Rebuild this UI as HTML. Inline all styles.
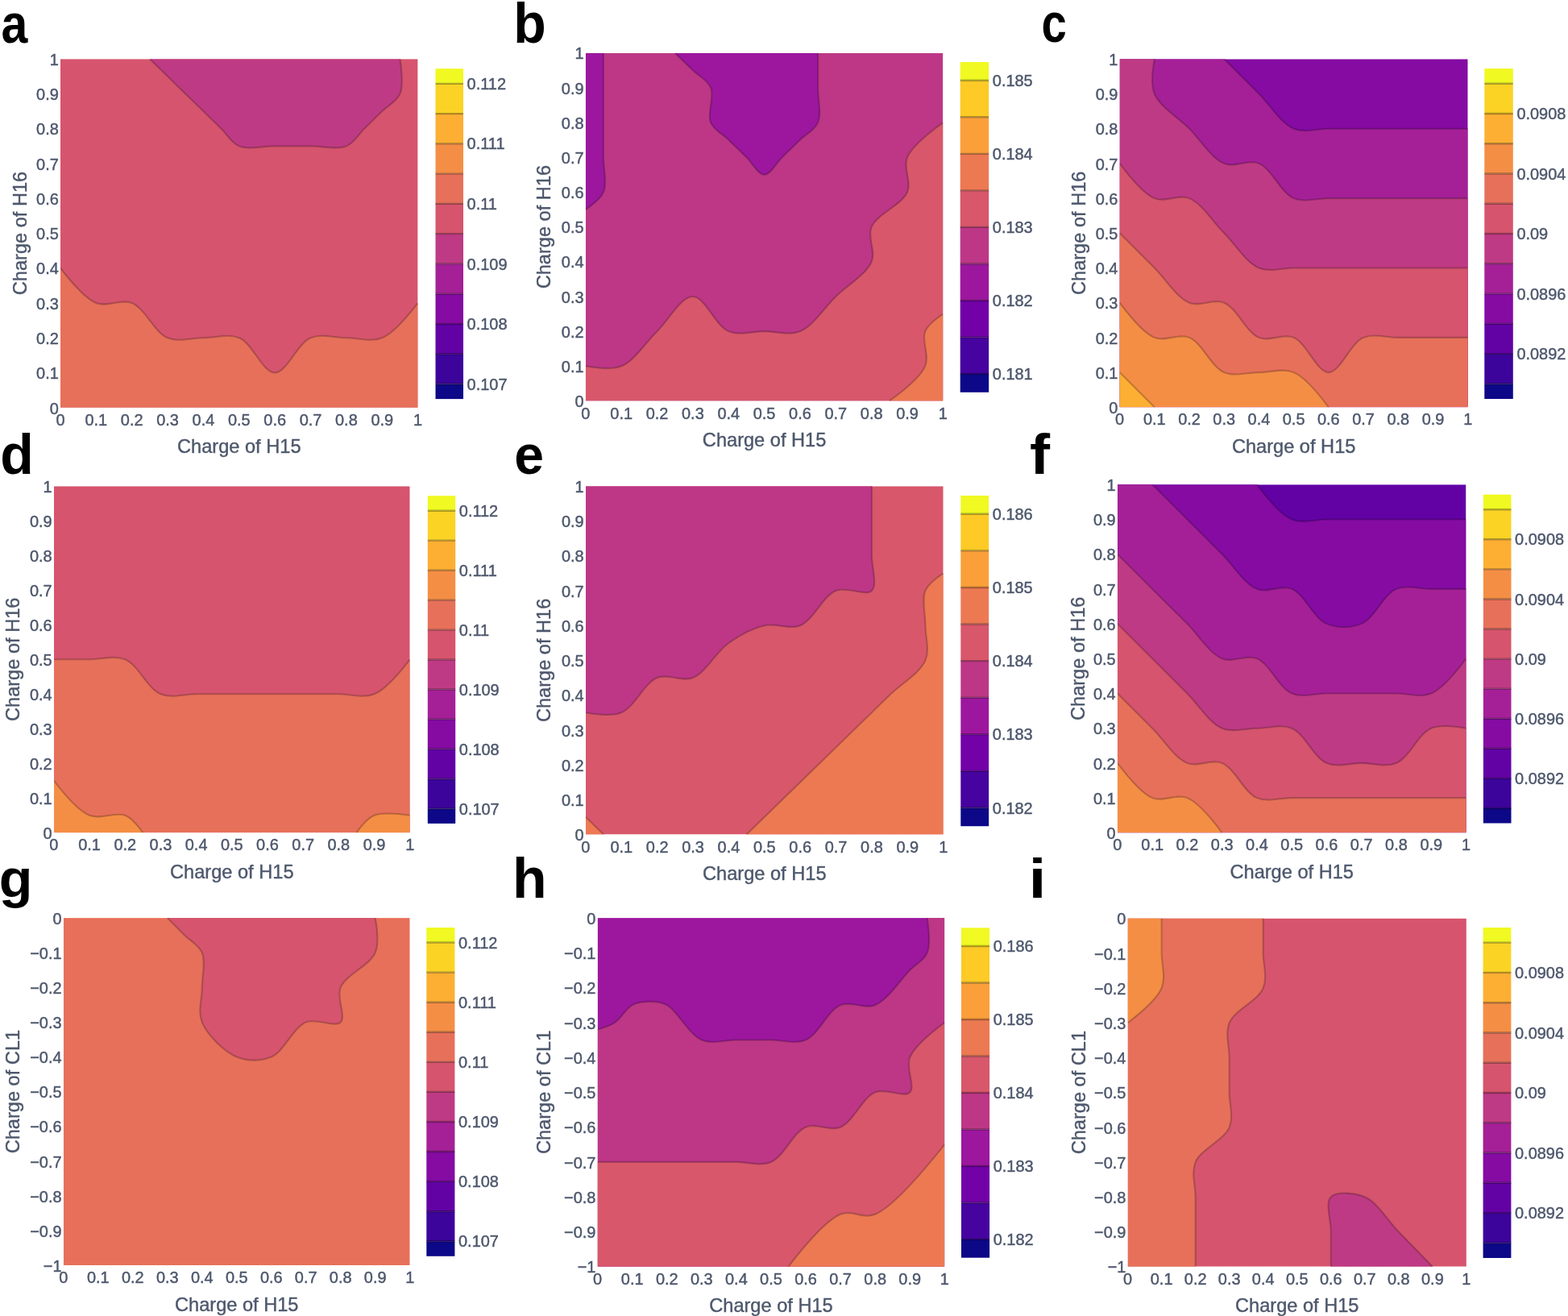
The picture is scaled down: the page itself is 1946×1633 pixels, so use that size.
<!DOCTYPE html>
<html><head><meta charset="utf-8"><title>Contour plots</title>
<style>
html,body{margin:0;padding:0;background:#fff;}
svg{display:block;}
.t{font-family:'Liberation Sans', Arial, sans-serif;font-size:21px;fill:#4d576c;stroke:#4d576c;stroke-width:0.45px;}
.ti{font-family:'Liberation Sans', Arial, sans-serif;font-size:23.6px;fill:#4d576c;stroke:#4d576c;stroke-width:0.4px;}
.L{font-family:'Liberation Sans', Arial, sans-serif;font-weight:bold;font-size:69px;fill:#000;}
</style></head><body>
<svg width="1946" height="1633" viewBox="0 0 1946 1633">
<rect width="1946" height="1633" fill="#fff"/>
<clipPath id="clipa"><rect x="75.00" y="73.20" width="443.60" height="432.60"/></clipPath>
<g clip-path="url(#clipa)">
<rect x="75.00" y="73.20" width="443.60" height="432.60" fill="#d6546d"/>
<path d="M185.90,73.20Q200.69,87.62 208.08,94.83C215.47,102.04 222.87,109.25 230.26,116.46C237.65,123.67 245.05,130.88 252.44,138.09C259.83,145.30 267.23,152.51 274.62,159.72C282.01,166.93 287.15,177.42 296.80,181.35C308.35,186.05 326.37,181.35 341.16,181.35C355.95,181.35 370.73,181.35 385.52,181.35C400.31,181.35 418.33,186.05 429.88,181.35C439.53,177.42 444.67,166.93 452.06,159.72C459.45,152.51 466.85,145.30 474.24,138.09C481.63,130.88 492.42,125.96 496.42,116.46Q501.15,105.24 496.42,73.20Z" fill="#bf3a84"/>
<path d="M75.00,332.76Q103.12,369.41 119.36,376.02C133.10,381.61 149.98,370.43 163.72,376.02C179.96,382.63 191.84,412.67 208.08,419.28C221.82,424.87 237.65,419.28 252.44,419.28C267.23,419.28 283.06,413.69 296.80,419.28C313.04,425.89 326.37,462.54 341.16,462.54C355.95,462.54 369.28,425.89 385.52,419.28C399.26,413.69 415.09,419.28 429.88,419.28C444.67,419.28 460.50,424.87 474.24,419.28Q490.48,412.67 518.60,376.02L518.60,505.80L75.00,505.80Z" fill="#e7705a"/>
<path d="M185.90,73.20Q200.69,87.62 208.08,94.83C215.47,102.04 222.87,109.25 230.26,116.46C237.65,123.67 245.05,130.88 252.44,138.09C259.83,145.30 267.23,152.51 274.62,159.72C282.01,166.93 287.15,177.42 296.80,181.35C308.35,186.05 326.37,181.35 341.16,181.35C355.95,181.35 370.73,181.35 385.52,181.35C400.31,181.35 418.33,186.05 429.88,181.35C439.53,177.42 444.67,166.93 452.06,159.72C459.45,152.51 466.85,145.30 474.24,138.09C481.63,130.88 492.42,125.96 496.42,116.46Q501.15,105.24 496.42,73.20" fill="none" stroke="#000" stroke-width="2.1" stroke-opacity="0.22"/>
<path d="M75.00,332.76Q103.12,369.41 119.36,376.02C133.10,381.61 149.98,370.43 163.72,376.02C179.96,382.63 191.84,412.67 208.08,419.28C221.82,424.87 237.65,419.28 252.44,419.28C267.23,419.28 283.06,413.69 296.80,419.28C313.04,425.89 326.37,462.54 341.16,462.54C355.95,462.54 369.28,425.89 385.52,419.28C399.26,413.69 415.09,419.28 429.88,419.28C444.67,419.28 460.50,424.87 474.24,419.28Q490.48,412.67 518.60,376.02" fill="none" stroke="#000" stroke-width="2.1" stroke-opacity="0.22"/>
</g>
<rect x="540.50" y="476.47" width="34.50" height="18.63" fill="#0d0887"/>
<rect x="540.50" y="439.20" width="34.50" height="37.26" fill="#3c049b"/>
<rect x="540.50" y="401.94" width="34.50" height="37.26" fill="#6202a5"/>
<rect x="540.50" y="364.68" width="34.50" height="37.26" fill="#850ba3"/>
<rect x="540.50" y="327.41" width="34.50" height="37.26" fill="#a52097"/>
<rect x="540.50" y="290.15" width="34.50" height="37.26" fill="#bf3a84"/>
<rect x="540.50" y="252.89" width="34.50" height="37.26" fill="#d6546d"/>
<rect x="540.50" y="215.62" width="34.50" height="37.26" fill="#e7705a"/>
<rect x="540.50" y="178.36" width="34.50" height="37.26" fill="#f58e45"/>
<rect x="540.50" y="141.10" width="34.50" height="37.26" fill="#fcaf33"/>
<rect x="540.50" y="103.83" width="34.50" height="37.26" fill="#fbd325"/>
<rect x="540.50" y="85.20" width="34.50" height="18.63" fill="#f0f921"/>
<line x1="540.50" x2="575.00" y1="476.47" y2="476.47" stroke="#000" stroke-width="2.4" stroke-opacity="0.3"/>
<line x1="540.50" x2="575.00" y1="439.20" y2="439.20" stroke="#000" stroke-width="2.4" stroke-opacity="0.3"/>
<line x1="540.50" x2="575.00" y1="401.94" y2="401.94" stroke="#000" stroke-width="2.4" stroke-opacity="0.3"/>
<line x1="540.50" x2="575.00" y1="364.68" y2="364.68" stroke="#000" stroke-width="2.4" stroke-opacity="0.3"/>
<line x1="540.50" x2="575.00" y1="327.41" y2="327.41" stroke="#000" stroke-width="2.4" stroke-opacity="0.3"/>
<line x1="540.50" x2="575.00" y1="290.15" y2="290.15" stroke="#000" stroke-width="2.4" stroke-opacity="0.3"/>
<line x1="540.50" x2="575.00" y1="252.89" y2="252.89" stroke="#000" stroke-width="2.4" stroke-opacity="0.3"/>
<line x1="540.50" x2="575.00" y1="215.62" y2="215.62" stroke="#000" stroke-width="2.4" stroke-opacity="0.3"/>
<line x1="540.50" x2="575.00" y1="178.36" y2="178.36" stroke="#000" stroke-width="2.4" stroke-opacity="0.3"/>
<line x1="540.50" x2="575.00" y1="141.10" y2="141.10" stroke="#000" stroke-width="2.4" stroke-opacity="0.3"/>
<line x1="540.50" x2="575.00" y1="103.83" y2="103.83" stroke="#000" stroke-width="2.4" stroke-opacity="0.3"/>
<text class="t" transform="translate(579.60,483.57) scale(0.950,1)">0.107</text>
<text class="t" transform="translate(579.60,409.04) scale(0.950,1)">0.108</text>
<text class="t" transform="translate(579.60,334.51) scale(0.950,1)">0.109</text>
<text class="t" transform="translate(579.60,259.99) scale(0.950,1)">0.11</text>
<text class="t" transform="translate(579.60,185.46) scale(0.950,1)">0.111</text>
<text class="t" transform="translate(579.60,110.93) scale(0.950,1)">0.112</text>
<text class="t" text-anchor="end" transform="translate(72.80,513.50) scale(0.950,1)">0</text>
<text class="t" text-anchor="end" transform="translate(72.80,470.24) scale(0.950,1)">0.1</text>
<text class="t" text-anchor="end" transform="translate(72.80,426.98) scale(0.950,1)">0.2</text>
<text class="t" text-anchor="end" transform="translate(72.80,383.72) scale(0.950,1)">0.3</text>
<text class="t" text-anchor="end" transform="translate(72.80,340.46) scale(0.950,1)">0.4</text>
<text class="t" text-anchor="end" transform="translate(72.80,297.20) scale(0.950,1)">0.5</text>
<text class="t" text-anchor="end" transform="translate(72.80,253.94) scale(0.950,1)">0.6</text>
<text class="t" text-anchor="end" transform="translate(72.80,210.68) scale(0.950,1)">0.7</text>
<text class="t" text-anchor="end" transform="translate(72.80,167.42) scale(0.950,1)">0.8</text>
<text class="t" text-anchor="end" transform="translate(72.80,124.16) scale(0.950,1)">0.9</text>
<text class="t" text-anchor="end" transform="translate(72.80,80.90) scale(0.950,1)">1</text>
<text class="t" text-anchor="middle" transform="translate(75.00,527.80) scale(0.950,1)">0</text>
<text class="t" text-anchor="middle" transform="translate(119.36,527.80) scale(0.950,1)">0.1</text>
<text class="t" text-anchor="middle" transform="translate(163.72,527.80) scale(0.950,1)">0.2</text>
<text class="t" text-anchor="middle" transform="translate(208.08,527.80) scale(0.950,1)">0.3</text>
<text class="t" text-anchor="middle" transform="translate(252.44,527.80) scale(0.950,1)">0.4</text>
<text class="t" text-anchor="middle" transform="translate(296.80,527.80) scale(0.950,1)">0.5</text>
<text class="t" text-anchor="middle" transform="translate(341.16,527.80) scale(0.950,1)">0.6</text>
<text class="t" text-anchor="middle" transform="translate(385.52,527.80) scale(0.950,1)">0.7</text>
<text class="t" text-anchor="middle" transform="translate(429.88,527.80) scale(0.950,1)">0.8</text>
<text class="t" text-anchor="middle" transform="translate(474.24,527.80) scale(0.950,1)">0.9</text>
<text class="t" text-anchor="middle" transform="translate(518.60,527.80) scale(0.950,1)">1</text>
<text x="296.80" y="562.30" class="ti" text-anchor="middle">Charge of H15</text>
<text class="ti" text-anchor="middle" transform="translate(33.00,289.50) rotate(-90)">Charge of H16</text>
<text x="1.50" y="52.60" class="L" transform="translate(0.178,0.000) scale(0.8556,1.0000)">a</text>
<clipPath id="clipb"><rect x="726.80" y="65.70" width="443.60" height="431.80"/></clipPath>
<g clip-path="url(#clipb)">
<rect x="726.80" y="65.70" width="443.60" height="431.80" fill="#bd3786"/>
<path d="M748.98,65.70Q748.98,94.49 748.98,108.88C748.98,123.27 748.98,137.67 748.98,152.06C748.98,166.45 748.98,180.85 748.98,195.24C748.98,209.63 753.71,227.22 748.98,238.42Q744.98,247.90 726.80,260.01L726.80,65.70Z" fill="#9c179e"/>
<path d="M837.70,65.70Q852.49,80.09 859.88,87.29C867.27,94.49 878.06,99.40 882.06,108.88C886.79,120.08 877.33,140.86 882.06,152.06C886.06,161.54 896.85,166.45 904.24,173.65C911.63,180.85 919.03,188.04 926.42,195.24C933.81,202.44 941.21,216.83 948.60,216.83C955.99,216.83 963.39,202.44 970.78,195.24C978.17,188.04 985.57,180.85 992.96,173.65C1000.35,166.45 1011.14,161.54 1015.14,152.06C1019.87,140.86 1015.14,123.27 1015.14,108.88Q1015.14,94.49 1015.14,65.70Z" fill="#9c179e"/>
<path d="M726.80,454.32Q757.41,459.91 771.16,454.32C787.40,447.72 800.73,425.53 815.52,411.14C830.31,396.75 845.09,367.96 859.88,367.96C874.67,367.96 888.00,404.54 904.24,411.14C917.99,416.73 933.81,411.14 948.60,411.14C963.39,411.14 979.21,416.73 992.96,411.14C1009.20,404.54 1022.53,382.35 1037.32,367.96C1052.11,353.57 1074.95,340.72 1081.68,324.78C1087.30,311.47 1076.06,294.91 1081.68,281.60C1088.41,265.66 1119.31,254.36 1126.04,238.42C1131.66,225.11 1120.42,208.55 1126.04,195.24Q1132.77,179.30 1170.40,152.06L1170.40,497.50L726.80,497.50Z" fill="#d8576b"/>
<path d="M1103.86,497.50Q1141.49,470.26 1148.22,454.32C1153.84,441.01 1143.49,422.34 1148.22,411.14Q1152.22,401.66 1170.40,389.55L1170.40,497.50Z" fill="#ed7953"/>
<path d="M748.98,65.70Q748.98,94.49 748.98,108.88C748.98,123.27 748.98,137.67 748.98,152.06C748.98,166.45 748.98,180.85 748.98,195.24C748.98,209.63 753.71,227.22 748.98,238.42Q744.98,247.90 726.80,260.01" fill="none" stroke="#000" stroke-width="2.1" stroke-opacity="0.22"/>
<path d="M837.70,65.70Q852.49,80.09 859.88,87.29C867.27,94.49 878.06,99.40 882.06,108.88C886.79,120.08 877.33,140.86 882.06,152.06C886.06,161.54 896.85,166.45 904.24,173.65C911.63,180.85 919.03,188.04 926.42,195.24C933.81,202.44 941.21,216.83 948.60,216.83C955.99,216.83 963.39,202.44 970.78,195.24C978.17,188.04 985.57,180.85 992.96,173.65C1000.35,166.45 1011.14,161.54 1015.14,152.06C1019.87,140.86 1015.14,123.27 1015.14,108.88Q1015.14,94.49 1015.14,65.70" fill="none" stroke="#000" stroke-width="2.1" stroke-opacity="0.22"/>
<path d="M726.80,454.32Q757.41,459.91 771.16,454.32C787.40,447.72 800.73,425.53 815.52,411.14C830.31,396.75 845.09,367.96 859.88,367.96C874.67,367.96 888.00,404.54 904.24,411.14C917.99,416.73 933.81,411.14 948.60,411.14C963.39,411.14 979.21,416.73 992.96,411.14C1009.20,404.54 1022.53,382.35 1037.32,367.96C1052.11,353.57 1074.95,340.72 1081.68,324.78C1087.30,311.47 1076.06,294.91 1081.68,281.60C1088.41,265.66 1119.31,254.36 1126.04,238.42C1131.66,225.11 1120.42,208.55 1126.04,195.24Q1132.77,179.30 1170.40,152.06" fill="none" stroke="#000" stroke-width="2.1" stroke-opacity="0.22"/>
<path d="M1103.86,497.50Q1141.49,470.26 1148.22,454.32C1153.84,441.01 1143.49,422.34 1148.22,411.14Q1152.22,401.66 1170.40,389.55" fill="none" stroke="#000" stroke-width="2.1" stroke-opacity="0.22"/>
</g>
<rect x="1191.70" y="464.03" width="35.50" height="22.77" fill="#0d0887"/>
<rect x="1191.70" y="418.50" width="35.50" height="45.53" fill="#46039f"/>
<rect x="1191.70" y="372.97" width="35.50" height="45.53" fill="#7201a8"/>
<rect x="1191.70" y="327.43" width="35.50" height="45.53" fill="#9c179e"/>
<rect x="1191.70" y="281.90" width="35.50" height="45.53" fill="#bd3786"/>
<rect x="1191.70" y="236.37" width="35.50" height="45.53" fill="#d8576b"/>
<rect x="1191.70" y="190.83" width="35.50" height="45.53" fill="#ed7953"/>
<rect x="1191.70" y="145.30" width="35.50" height="45.53" fill="#fb9f3a"/>
<rect x="1191.70" y="99.77" width="35.50" height="45.53" fill="#fdca26"/>
<rect x="1191.70" y="77.00" width="35.50" height="22.77" fill="#f0f921"/>
<line x1="1191.70" x2="1227.20" y1="464.03" y2="464.03" stroke="#000" stroke-width="2.4" stroke-opacity="0.3"/>
<line x1="1191.70" x2="1227.20" y1="418.50" y2="418.50" stroke="#000" stroke-width="2.4" stroke-opacity="0.3"/>
<line x1="1191.70" x2="1227.20" y1="372.97" y2="372.97" stroke="#000" stroke-width="2.4" stroke-opacity="0.3"/>
<line x1="1191.70" x2="1227.20" y1="327.43" y2="327.43" stroke="#000" stroke-width="2.4" stroke-opacity="0.3"/>
<line x1="1191.70" x2="1227.20" y1="281.90" y2="281.90" stroke="#000" stroke-width="2.4" stroke-opacity="0.3"/>
<line x1="1191.70" x2="1227.20" y1="236.37" y2="236.37" stroke="#000" stroke-width="2.4" stroke-opacity="0.3"/>
<line x1="1191.70" x2="1227.20" y1="190.83" y2="190.83" stroke="#000" stroke-width="2.4" stroke-opacity="0.3"/>
<line x1="1191.70" x2="1227.20" y1="145.30" y2="145.30" stroke="#000" stroke-width="2.4" stroke-opacity="0.3"/>
<line x1="1191.70" x2="1227.20" y1="99.77" y2="99.77" stroke="#000" stroke-width="2.4" stroke-opacity="0.3"/>
<text class="t" transform="translate(1231.80,471.13) scale(0.950,1)">0.181</text>
<text class="t" transform="translate(1231.80,380.07) scale(0.950,1)">0.182</text>
<text class="t" transform="translate(1231.80,289.00) scale(0.950,1)">0.183</text>
<text class="t" transform="translate(1231.80,197.93) scale(0.950,1)">0.184</text>
<text class="t" transform="translate(1231.80,106.87) scale(0.950,1)">0.185</text>
<text class="t" text-anchor="end" transform="translate(724.60,505.20) scale(0.950,1)">0</text>
<text class="t" text-anchor="end" transform="translate(724.60,462.02) scale(0.950,1)">0.1</text>
<text class="t" text-anchor="end" transform="translate(724.60,418.84) scale(0.950,1)">0.2</text>
<text class="t" text-anchor="end" transform="translate(724.60,375.66) scale(0.950,1)">0.3</text>
<text class="t" text-anchor="end" transform="translate(724.60,332.48) scale(0.950,1)">0.4</text>
<text class="t" text-anchor="end" transform="translate(724.60,289.30) scale(0.950,1)">0.5</text>
<text class="t" text-anchor="end" transform="translate(724.60,246.12) scale(0.950,1)">0.6</text>
<text class="t" text-anchor="end" transform="translate(724.60,202.94) scale(0.950,1)">0.7</text>
<text class="t" text-anchor="end" transform="translate(724.60,159.76) scale(0.950,1)">0.8</text>
<text class="t" text-anchor="end" transform="translate(724.60,116.58) scale(0.950,1)">0.9</text>
<text class="t" text-anchor="end" transform="translate(724.60,73.40) scale(0.950,1)">1</text>
<text class="t" text-anchor="middle" transform="translate(726.80,519.50) scale(0.950,1)">0</text>
<text class="t" text-anchor="middle" transform="translate(771.16,519.50) scale(0.950,1)">0.1</text>
<text class="t" text-anchor="middle" transform="translate(815.52,519.50) scale(0.950,1)">0.2</text>
<text class="t" text-anchor="middle" transform="translate(859.88,519.50) scale(0.950,1)">0.3</text>
<text class="t" text-anchor="middle" transform="translate(904.24,519.50) scale(0.950,1)">0.4</text>
<text class="t" text-anchor="middle" transform="translate(948.60,519.50) scale(0.950,1)">0.5</text>
<text class="t" text-anchor="middle" transform="translate(992.96,519.50) scale(0.950,1)">0.6</text>
<text class="t" text-anchor="middle" transform="translate(1037.32,519.50) scale(0.950,1)">0.7</text>
<text class="t" text-anchor="middle" transform="translate(1081.68,519.50) scale(0.950,1)">0.8</text>
<text class="t" text-anchor="middle" transform="translate(1126.04,519.50) scale(0.950,1)">0.9</text>
<text class="t" text-anchor="middle" transform="translate(1170.40,519.50) scale(0.950,1)">1</text>
<text x="948.60" y="554.00" class="ti" text-anchor="middle">Charge of H15</text>
<text class="ti" text-anchor="middle" transform="translate(683.00,281.60) rotate(-90)">Charge of H16</text>
<text x="639.50" y="52.40" class="L" transform="translate(23.360,-0.744) scale(0.9600,1.0220)">b</text>
<clipPath id="clipc"><rect x="1389.60" y="73.30" width="432.10" height="432.00"/></clipPath>
<g clip-path="url(#clipc)">
<rect x="1389.60" y="73.30" width="432.10" height="432.00" fill="#850ba3"/>
<path d="M1519.23,73.30Q1548.04,102.10 1562.44,116.50C1576.84,130.90 1589.77,153.12 1605.65,159.70C1619.01,165.23 1634.46,159.70 1648.86,159.70C1663.26,159.70 1677.67,159.70 1692.07,159.70C1706.47,159.70 1720.88,159.70 1735.28,159.70C1749.68,159.70 1764.09,159.70 1778.49,159.70Q1792.89,159.70 1821.70,159.70L1821.70,505.30L1389.60,505.30L1389.60,73.30Z" fill="#a52097"/>
<path d="M1432.81,73.30Q1427.28,103.15 1432.81,116.50C1439.39,132.38 1461.62,145.30 1476.02,159.70C1490.42,174.10 1503.35,196.32 1519.23,202.90C1532.59,208.43 1549.08,197.37 1562.44,202.90C1578.32,209.48 1589.77,239.52 1605.65,246.10C1619.01,251.63 1634.46,246.10 1648.86,246.10C1663.26,246.10 1677.67,246.10 1692.07,246.10C1706.47,246.10 1720.88,246.10 1735.28,246.10C1749.68,246.10 1764.09,246.10 1778.49,246.10Q1792.89,246.10 1821.70,246.10L1821.70,505.30L1389.60,505.30L1389.60,73.30Z" fill="#bf3a84"/>
<path d="M1389.60,202.90Q1416.93,239.52 1432.81,246.10C1446.17,251.63 1462.66,240.57 1476.02,246.10C1491.90,252.68 1504.83,274.90 1519.23,289.30C1533.63,303.70 1546.56,325.92 1562.44,332.50C1575.80,338.03 1591.25,332.50 1605.65,332.50C1620.05,332.50 1634.46,332.50 1648.86,332.50C1663.26,332.50 1677.67,332.50 1692.07,332.50C1706.47,332.50 1720.88,332.50 1735.28,332.50C1749.68,332.50 1764.09,332.50 1778.49,332.50Q1792.89,332.50 1821.70,332.50L1821.70,505.30L1389.60,505.30Z" fill="#d6546d"/>
<path d="M1389.60,289.30Q1418.41,318.10 1432.81,332.50C1447.21,346.90 1460.14,369.12 1476.02,375.70C1489.38,381.23 1505.87,370.17 1519.23,375.70C1535.11,382.28 1546.56,412.32 1562.44,418.90C1575.80,424.43 1592.29,413.37 1605.65,418.90C1621.53,425.48 1634.46,462.10 1648.86,462.10C1663.26,462.10 1676.19,425.48 1692.07,418.90C1705.43,413.37 1720.88,418.90 1735.28,418.90C1749.68,418.90 1764.09,418.90 1778.49,418.90Q1792.89,418.90 1821.70,418.90L1821.70,505.30L1389.60,505.30Z" fill="#e7705a"/>
<path d="M1389.60,375.70Q1416.93,412.32 1432.81,418.90C1446.17,424.43 1462.66,413.37 1476.02,418.90C1491.90,425.48 1503.35,455.52 1519.23,462.10C1532.59,467.63 1548.04,462.10 1562.44,462.10C1576.84,462.10 1592.29,456.57 1605.65,462.10Q1621.53,468.68 1648.86,505.30L1389.60,505.30Z" fill="#f58e45"/>
<path d="M1389.60,462.10L1432.81,505.30L1389.60,505.30Z" fill="#fcaf33"/>
<path d="M1519.23,73.30Q1548.04,102.10 1562.44,116.50C1576.84,130.90 1589.77,153.12 1605.65,159.70C1619.01,165.23 1634.46,159.70 1648.86,159.70C1663.26,159.70 1677.67,159.70 1692.07,159.70C1706.47,159.70 1720.88,159.70 1735.28,159.70C1749.68,159.70 1764.09,159.70 1778.49,159.70Q1792.89,159.70 1821.70,159.70" fill="none" stroke="#000" stroke-width="2.1" stroke-opacity="0.22"/>
<path d="M1432.81,73.30Q1427.28,103.15 1432.81,116.50C1439.39,132.38 1461.62,145.30 1476.02,159.70C1490.42,174.10 1503.35,196.32 1519.23,202.90C1532.59,208.43 1549.08,197.37 1562.44,202.90C1578.32,209.48 1589.77,239.52 1605.65,246.10C1619.01,251.63 1634.46,246.10 1648.86,246.10C1663.26,246.10 1677.67,246.10 1692.07,246.10C1706.47,246.10 1720.88,246.10 1735.28,246.10C1749.68,246.10 1764.09,246.10 1778.49,246.10Q1792.89,246.10 1821.70,246.10" fill="none" stroke="#000" stroke-width="2.1" stroke-opacity="0.22"/>
<path d="M1389.60,202.90Q1416.93,239.52 1432.81,246.10C1446.17,251.63 1462.66,240.57 1476.02,246.10C1491.90,252.68 1504.83,274.90 1519.23,289.30C1533.63,303.70 1546.56,325.92 1562.44,332.50C1575.80,338.03 1591.25,332.50 1605.65,332.50C1620.05,332.50 1634.46,332.50 1648.86,332.50C1663.26,332.50 1677.67,332.50 1692.07,332.50C1706.47,332.50 1720.88,332.50 1735.28,332.50C1749.68,332.50 1764.09,332.50 1778.49,332.50Q1792.89,332.50 1821.70,332.50" fill="none" stroke="#000" stroke-width="2.1" stroke-opacity="0.22"/>
<path d="M1389.60,289.30Q1418.41,318.10 1432.81,332.50C1447.21,346.90 1460.14,369.12 1476.02,375.70C1489.38,381.23 1505.87,370.17 1519.23,375.70C1535.11,382.28 1546.56,412.32 1562.44,418.90C1575.80,424.43 1592.29,413.37 1605.65,418.90C1621.53,425.48 1634.46,462.10 1648.86,462.10C1663.26,462.10 1676.19,425.48 1692.07,418.90C1705.43,413.37 1720.88,418.90 1735.28,418.90C1749.68,418.90 1764.09,418.90 1778.49,418.90Q1792.89,418.90 1821.70,418.90" fill="none" stroke="#000" stroke-width="2.1" stroke-opacity="0.22"/>
<path d="M1389.60,375.70Q1416.93,412.32 1432.81,418.90C1446.17,424.43 1462.66,413.37 1476.02,418.90C1491.90,425.48 1503.35,455.52 1519.23,462.10C1532.59,467.63 1548.04,462.10 1562.44,462.10C1576.84,462.10 1592.29,456.57 1605.65,462.10Q1621.53,468.68 1648.86,505.30" fill="none" stroke="#000" stroke-width="2.1" stroke-opacity="0.22"/>
<path d="M1389.60,462.10L1432.81,505.30" fill="none" stroke="#000" stroke-width="2.1" stroke-opacity="0.22"/>
</g>
<rect x="1842.30" y="476.37" width="35.50" height="18.63" fill="#0d0887"/>
<rect x="1842.30" y="439.10" width="35.50" height="37.26" fill="#3c049b"/>
<rect x="1842.30" y="401.84" width="35.50" height="37.26" fill="#6202a5"/>
<rect x="1842.30" y="364.58" width="35.50" height="37.26" fill="#850ba3"/>
<rect x="1842.30" y="327.31" width="35.50" height="37.26" fill="#a52097"/>
<rect x="1842.30" y="290.05" width="35.50" height="37.26" fill="#bf3a84"/>
<rect x="1842.30" y="252.79" width="35.50" height="37.26" fill="#d6546d"/>
<rect x="1842.30" y="215.52" width="35.50" height="37.26" fill="#e7705a"/>
<rect x="1842.30" y="178.26" width="35.50" height="37.26" fill="#f58e45"/>
<rect x="1842.30" y="141.00" width="35.50" height="37.26" fill="#fcaf33"/>
<rect x="1842.30" y="103.73" width="35.50" height="37.26" fill="#fbd325"/>
<rect x="1842.30" y="85.10" width="35.50" height="18.63" fill="#f0f921"/>
<line x1="1842.30" x2="1877.80" y1="476.37" y2="476.37" stroke="#000" stroke-width="2.4" stroke-opacity="0.3"/>
<line x1="1842.30" x2="1877.80" y1="439.10" y2="439.10" stroke="#000" stroke-width="2.4" stroke-opacity="0.3"/>
<line x1="1842.30" x2="1877.80" y1="401.84" y2="401.84" stroke="#000" stroke-width="2.4" stroke-opacity="0.3"/>
<line x1="1842.30" x2="1877.80" y1="364.58" y2="364.58" stroke="#000" stroke-width="2.4" stroke-opacity="0.3"/>
<line x1="1842.30" x2="1877.80" y1="327.31" y2="327.31" stroke="#000" stroke-width="2.4" stroke-opacity="0.3"/>
<line x1="1842.30" x2="1877.80" y1="290.05" y2="290.05" stroke="#000" stroke-width="2.4" stroke-opacity="0.3"/>
<line x1="1842.30" x2="1877.80" y1="252.79" y2="252.79" stroke="#000" stroke-width="2.4" stroke-opacity="0.3"/>
<line x1="1842.30" x2="1877.80" y1="215.52" y2="215.52" stroke="#000" stroke-width="2.4" stroke-opacity="0.3"/>
<line x1="1842.30" x2="1877.80" y1="178.26" y2="178.26" stroke="#000" stroke-width="2.4" stroke-opacity="0.3"/>
<line x1="1842.30" x2="1877.80" y1="141.00" y2="141.00" stroke="#000" stroke-width="2.4" stroke-opacity="0.3"/>
<line x1="1842.30" x2="1877.80" y1="103.73" y2="103.73" stroke="#000" stroke-width="2.4" stroke-opacity="0.3"/>
<text class="t" transform="translate(1882.40,446.20) scale(0.950,1)">0.0892</text>
<text class="t" transform="translate(1882.40,371.68) scale(0.950,1)">0.0896</text>
<text class="t" transform="translate(1882.40,297.15) scale(0.950,1)">0.09</text>
<text class="t" transform="translate(1882.40,222.62) scale(0.950,1)">0.0904</text>
<text class="t" transform="translate(1882.40,148.10) scale(0.950,1)">0.0908</text>
<text class="t" text-anchor="end" transform="translate(1387.40,513.00) scale(0.950,1)">0</text>
<text class="t" text-anchor="end" transform="translate(1387.40,469.80) scale(0.950,1)">0.1</text>
<text class="t" text-anchor="end" transform="translate(1387.40,426.60) scale(0.950,1)">0.2</text>
<text class="t" text-anchor="end" transform="translate(1387.40,383.40) scale(0.950,1)">0.3</text>
<text class="t" text-anchor="end" transform="translate(1387.40,340.20) scale(0.950,1)">0.4</text>
<text class="t" text-anchor="end" transform="translate(1387.40,297.00) scale(0.950,1)">0.5</text>
<text class="t" text-anchor="end" transform="translate(1387.40,253.80) scale(0.950,1)">0.6</text>
<text class="t" text-anchor="end" transform="translate(1387.40,210.60) scale(0.950,1)">0.7</text>
<text class="t" text-anchor="end" transform="translate(1387.40,167.40) scale(0.950,1)">0.8</text>
<text class="t" text-anchor="end" transform="translate(1387.40,124.20) scale(0.950,1)">0.9</text>
<text class="t" text-anchor="end" transform="translate(1387.40,81.00) scale(0.950,1)">1</text>
<text class="t" text-anchor="middle" transform="translate(1389.60,527.30) scale(0.950,1)">0</text>
<text class="t" text-anchor="middle" transform="translate(1432.81,527.30) scale(0.950,1)">0.1</text>
<text class="t" text-anchor="middle" transform="translate(1476.02,527.30) scale(0.950,1)">0.2</text>
<text class="t" text-anchor="middle" transform="translate(1519.23,527.30) scale(0.950,1)">0.3</text>
<text class="t" text-anchor="middle" transform="translate(1562.44,527.30) scale(0.950,1)">0.4</text>
<text class="t" text-anchor="middle" transform="translate(1605.65,527.30) scale(0.950,1)">0.5</text>
<text class="t" text-anchor="middle" transform="translate(1648.86,527.30) scale(0.950,1)">0.6</text>
<text class="t" text-anchor="middle" transform="translate(1692.07,527.30) scale(0.950,1)">0.7</text>
<text class="t" text-anchor="middle" transform="translate(1735.28,527.30) scale(0.950,1)">0.8</text>
<text class="t" text-anchor="middle" transform="translate(1778.49,527.30) scale(0.950,1)">0.9</text>
<text class="t" text-anchor="middle" transform="translate(1821.70,527.30) scale(0.950,1)">1</text>
<text x="1605.65" y="561.80" class="ti" text-anchor="middle">Charge of H15</text>
<text class="ti" text-anchor="middle" transform="translate(1347.00,289.30) rotate(-90)">Charge of H16</text>
<text x="1293.00" y="52.70" class="L" transform="translate(238.564,-0.006) scale(0.8152,0.9944)">c</text>
<clipPath id="clipd"><rect x="66.90" y="603.30" width="441.80" height="430.00"/></clipPath>
<g clip-path="url(#clipd)">
<rect x="66.90" y="603.30" width="441.80" height="430.00" fill="#d6546d"/>
<path d="M66.90,818.30Q96.35,818.30 111.08,818.30C125.81,818.30 141.57,812.74 155.26,818.30C171.43,824.87 183.27,854.73 199.44,861.30C213.13,866.86 228.89,861.30 243.62,861.30C258.35,861.30 273.07,861.30 287.80,861.30C302.53,861.30 317.25,861.30 331.98,861.30C346.71,861.30 361.43,861.30 376.16,861.30C390.89,861.30 405.61,861.30 420.34,861.30C435.07,861.30 450.83,866.86 464.52,861.30Q480.69,854.73 508.70,818.30L508.70,1033.30L66.90,1033.30Z" fill="#e7705a"/>
<path d="M66.90,968.80Q94.91,1005.23 111.08,1011.80C124.77,1017.36 143.75,1007.13 155.26,1011.80Q164.87,1015.70 177.35,1033.30L66.90,1033.30Z" fill="#f58e45"/>
<path d="M442.43,1033.30Q454.91,1015.70 464.52,1011.80Q476.03,1007.13 508.70,1011.80L508.70,1033.30Z" fill="#f58e45"/>
<path d="M66.90,818.30Q96.35,818.30 111.08,818.30C125.81,818.30 141.57,812.74 155.26,818.30C171.43,824.87 183.27,854.73 199.44,861.30C213.13,866.86 228.89,861.30 243.62,861.30C258.35,861.30 273.07,861.30 287.80,861.30C302.53,861.30 317.25,861.30 331.98,861.30C346.71,861.30 361.43,861.30 376.16,861.30C390.89,861.30 405.61,861.30 420.34,861.30C435.07,861.30 450.83,866.86 464.52,861.30Q480.69,854.73 508.70,818.30" fill="none" stroke="#000" stroke-width="2.1" stroke-opacity="0.22"/>
<path d="M66.90,968.80Q94.91,1005.23 111.08,1011.80C124.77,1017.36 143.75,1007.13 155.26,1011.80Q164.87,1015.70 177.35,1033.30" fill="none" stroke="#000" stroke-width="2.1" stroke-opacity="0.22"/>
<path d="M442.43,1033.30Q454.91,1015.70 464.52,1011.80Q476.03,1007.13 508.70,1011.80" fill="none" stroke="#000" stroke-width="2.1" stroke-opacity="0.22"/>
</g>
<rect x="530.80" y="1003.41" width="34.40" height="18.49" fill="#0d0887"/>
<rect x="530.80" y="966.44" width="34.40" height="36.97" fill="#3c049b"/>
<rect x="530.80" y="929.47" width="34.40" height="36.97" fill="#6202a5"/>
<rect x="530.80" y="892.50" width="34.40" height="36.97" fill="#850ba3"/>
<rect x="530.80" y="855.52" width="34.40" height="36.97" fill="#a52097"/>
<rect x="530.80" y="818.55" width="34.40" height="36.97" fill="#bf3a84"/>
<rect x="530.80" y="781.58" width="34.40" height="36.97" fill="#d6546d"/>
<rect x="530.80" y="744.60" width="34.40" height="36.97" fill="#e7705a"/>
<rect x="530.80" y="707.63" width="34.40" height="36.97" fill="#f58e45"/>
<rect x="530.80" y="670.66" width="34.40" height="36.97" fill="#fcaf33"/>
<rect x="530.80" y="633.69" width="34.40" height="36.97" fill="#fbd325"/>
<rect x="530.80" y="615.20" width="34.40" height="18.49" fill="#f0f921"/>
<line x1="530.80" x2="565.20" y1="1003.41" y2="1003.41" stroke="#000" stroke-width="2.4" stroke-opacity="0.3"/>
<line x1="530.80" x2="565.20" y1="966.44" y2="966.44" stroke="#000" stroke-width="2.4" stroke-opacity="0.3"/>
<line x1="530.80" x2="565.20" y1="929.47" y2="929.47" stroke="#000" stroke-width="2.4" stroke-opacity="0.3"/>
<line x1="530.80" x2="565.20" y1="892.50" y2="892.50" stroke="#000" stroke-width="2.4" stroke-opacity="0.3"/>
<line x1="530.80" x2="565.20" y1="855.52" y2="855.52" stroke="#000" stroke-width="2.4" stroke-opacity="0.3"/>
<line x1="530.80" x2="565.20" y1="818.55" y2="818.55" stroke="#000" stroke-width="2.4" stroke-opacity="0.3"/>
<line x1="530.80" x2="565.20" y1="781.58" y2="781.58" stroke="#000" stroke-width="2.4" stroke-opacity="0.3"/>
<line x1="530.80" x2="565.20" y1="744.60" y2="744.60" stroke="#000" stroke-width="2.4" stroke-opacity="0.3"/>
<line x1="530.80" x2="565.20" y1="707.63" y2="707.63" stroke="#000" stroke-width="2.4" stroke-opacity="0.3"/>
<line x1="530.80" x2="565.20" y1="670.66" y2="670.66" stroke="#000" stroke-width="2.4" stroke-opacity="0.3"/>
<line x1="530.80" x2="565.20" y1="633.69" y2="633.69" stroke="#000" stroke-width="2.4" stroke-opacity="0.3"/>
<text class="t" transform="translate(569.80,1010.51) scale(0.950,1)">0.107</text>
<text class="t" transform="translate(569.80,936.57) scale(0.950,1)">0.108</text>
<text class="t" transform="translate(569.80,862.62) scale(0.950,1)">0.109</text>
<text class="t" transform="translate(569.80,788.68) scale(0.950,1)">0.11</text>
<text class="t" transform="translate(569.80,714.73) scale(0.950,1)">0.111</text>
<text class="t" transform="translate(569.80,640.79) scale(0.950,1)">0.112</text>
<text class="t" text-anchor="end" transform="translate(64.70,1041.00) scale(0.950,1)">0</text>
<text class="t" text-anchor="end" transform="translate(64.70,998.00) scale(0.950,1)">0.1</text>
<text class="t" text-anchor="end" transform="translate(64.70,955.00) scale(0.950,1)">0.2</text>
<text class="t" text-anchor="end" transform="translate(64.70,912.00) scale(0.950,1)">0.3</text>
<text class="t" text-anchor="end" transform="translate(64.70,869.00) scale(0.950,1)">0.4</text>
<text class="t" text-anchor="end" transform="translate(64.70,826.00) scale(0.950,1)">0.5</text>
<text class="t" text-anchor="end" transform="translate(64.70,783.00) scale(0.950,1)">0.6</text>
<text class="t" text-anchor="end" transform="translate(64.70,740.00) scale(0.950,1)">0.7</text>
<text class="t" text-anchor="end" transform="translate(64.70,697.00) scale(0.950,1)">0.8</text>
<text class="t" text-anchor="end" transform="translate(64.70,654.00) scale(0.950,1)">0.9</text>
<text class="t" text-anchor="end" transform="translate(64.70,611.00) scale(0.950,1)">1</text>
<text class="t" text-anchor="middle" transform="translate(66.90,1055.30) scale(0.950,1)">0</text>
<text class="t" text-anchor="middle" transform="translate(111.08,1055.30) scale(0.950,1)">0.1</text>
<text class="t" text-anchor="middle" transform="translate(155.26,1055.30) scale(0.950,1)">0.2</text>
<text class="t" text-anchor="middle" transform="translate(199.44,1055.30) scale(0.950,1)">0.3</text>
<text class="t" text-anchor="middle" transform="translate(243.62,1055.30) scale(0.950,1)">0.4</text>
<text class="t" text-anchor="middle" transform="translate(287.80,1055.30) scale(0.950,1)">0.5</text>
<text class="t" text-anchor="middle" transform="translate(331.98,1055.30) scale(0.950,1)">0.6</text>
<text class="t" text-anchor="middle" transform="translate(376.16,1055.30) scale(0.950,1)">0.7</text>
<text class="t" text-anchor="middle" transform="translate(420.34,1055.30) scale(0.950,1)">0.8</text>
<text class="t" text-anchor="middle" transform="translate(464.52,1055.30) scale(0.950,1)">0.9</text>
<text class="t" text-anchor="middle" transform="translate(508.70,1055.30) scale(0.950,1)">1</text>
<text x="287.80" y="1089.80" class="ti" text-anchor="middle">Charge of H15</text>
<text class="ti" text-anchor="middle" transform="translate(24.00,818.30) rotate(-90)">Charge of H16</text>
<text x="1.50" y="588.50" class="L" transform="translate(-1.226,-19.348) scale(0.9853,1.0320)">d</text>
<clipPath id="clipe"><rect x="726.90" y="603.30" width="443.80" height="432.20"/></clipPath>
<g clip-path="url(#clipe)">
<rect x="726.90" y="603.30" width="443.80" height="432.20" fill="#d8576b"/>
<path d="M726.90,884.23Q757.53,889.82 771.28,884.23C787.53,877.63 799.41,847.61 815.66,841.01C829.41,835.42 846.29,846.60 860.04,841.01C876.29,834.41 888.69,808.85 904.42,797.79C918.46,787.92 933.59,779.69 948.80,776.18C963.22,772.86 979.43,781.77 993.18,776.18C1009.43,769.58 1021.31,739.56 1037.56,732.96C1051.31,727.37 1074.59,740.31 1081.94,732.96C1089.19,725.71 1081.94,704.15 1081.94,689.74C1081.94,675.33 1081.94,660.93 1081.94,646.52Q1081.94,632.11 1081.94,603.30L726.90,603.30Z" fill="#bd3786"/>
<path d="M926.61,1035.50Q956.20,1006.69 970.99,992.28C985.78,977.87 1000.58,963.47 1015.37,949.06C1030.16,934.65 1044.96,920.25 1059.75,905.84C1074.54,891.43 1089.34,877.03 1104.13,862.62C1118.92,848.21 1141.78,835.35 1148.51,819.40C1154.13,806.07 1148.51,790.59 1148.51,776.18C1148.51,761.77 1143.78,744.17 1148.51,732.96Q1152.52,723.47 1170.70,711.35L1170.70,1035.50Z" fill="#ed7953"/>
<path d="M726.90,1013.89L749.09,1035.50L726.90,1035.50Z" fill="#ed7953"/>
<path d="M726.90,884.23Q757.53,889.82 771.28,884.23C787.53,877.63 799.41,847.61 815.66,841.01C829.41,835.42 846.29,846.60 860.04,841.01C876.29,834.41 888.69,808.85 904.42,797.79C918.46,787.92 933.59,779.69 948.80,776.18C963.22,772.86 979.43,781.77 993.18,776.18C1009.43,769.58 1021.31,739.56 1037.56,732.96C1051.31,727.37 1074.59,740.31 1081.94,732.96C1089.19,725.71 1081.94,704.15 1081.94,689.74C1081.94,675.33 1081.94,660.93 1081.94,646.52Q1081.94,632.11 1081.94,603.30" fill="none" stroke="#000" stroke-width="2.1" stroke-opacity="0.22"/>
<path d="M926.61,1035.50Q956.20,1006.69 970.99,992.28C985.78,977.87 1000.58,963.47 1015.37,949.06C1030.16,934.65 1044.96,920.25 1059.75,905.84C1074.54,891.43 1089.34,877.03 1104.13,862.62C1118.92,848.21 1141.78,835.35 1148.51,819.40C1154.13,806.07 1148.51,790.59 1148.51,776.18C1148.51,761.77 1143.78,744.17 1148.51,732.96Q1152.52,723.47 1170.70,711.35" fill="none" stroke="#000" stroke-width="2.1" stroke-opacity="0.22"/>
<path d="M726.90,1013.89L749.09,1035.50" fill="none" stroke="#000" stroke-width="2.1" stroke-opacity="0.22"/>
</g>
<rect x="1192.30" y="1002.41" width="34.90" height="22.79" fill="#0d0887"/>
<rect x="1192.30" y="956.83" width="34.90" height="45.58" fill="#46039f"/>
<rect x="1192.30" y="911.26" width="34.90" height="45.58" fill="#7201a8"/>
<rect x="1192.30" y="865.68" width="34.90" height="45.58" fill="#9c179e"/>
<rect x="1192.30" y="820.10" width="34.90" height="45.58" fill="#bd3786"/>
<rect x="1192.30" y="774.52" width="34.90" height="45.58" fill="#d8576b"/>
<rect x="1192.30" y="728.94" width="34.90" height="45.58" fill="#ed7953"/>
<rect x="1192.30" y="683.37" width="34.90" height="45.58" fill="#fb9f3a"/>
<rect x="1192.30" y="637.79" width="34.90" height="45.58" fill="#fdca26"/>
<rect x="1192.30" y="615.00" width="34.90" height="22.79" fill="#f0f921"/>
<line x1="1192.30" x2="1227.20" y1="1002.41" y2="1002.41" stroke="#000" stroke-width="2.4" stroke-opacity="0.3"/>
<line x1="1192.30" x2="1227.20" y1="956.83" y2="956.83" stroke="#000" stroke-width="2.4" stroke-opacity="0.3"/>
<line x1="1192.30" x2="1227.20" y1="911.26" y2="911.26" stroke="#000" stroke-width="2.4" stroke-opacity="0.3"/>
<line x1="1192.30" x2="1227.20" y1="865.68" y2="865.68" stroke="#000" stroke-width="2.4" stroke-opacity="0.3"/>
<line x1="1192.30" x2="1227.20" y1="820.10" y2="820.10" stroke="#000" stroke-width="2.4" stroke-opacity="0.3"/>
<line x1="1192.30" x2="1227.20" y1="774.52" y2="774.52" stroke="#000" stroke-width="2.4" stroke-opacity="0.3"/>
<line x1="1192.30" x2="1227.20" y1="728.94" y2="728.94" stroke="#000" stroke-width="2.4" stroke-opacity="0.3"/>
<line x1="1192.30" x2="1227.20" y1="683.37" y2="683.37" stroke="#000" stroke-width="2.4" stroke-opacity="0.3"/>
<line x1="1192.30" x2="1227.20" y1="637.79" y2="637.79" stroke="#000" stroke-width="2.4" stroke-opacity="0.3"/>
<text class="t" transform="translate(1231.80,1009.51) scale(0.950,1)">0.182</text>
<text class="t" transform="translate(1231.80,918.36) scale(0.950,1)">0.183</text>
<text class="t" transform="translate(1231.80,827.20) scale(0.950,1)">0.184</text>
<text class="t" transform="translate(1231.80,736.04) scale(0.950,1)">0.185</text>
<text class="t" transform="translate(1231.80,644.89) scale(0.950,1)">0.186</text>
<text class="t" text-anchor="end" transform="translate(724.70,1043.20) scale(0.950,1)">0</text>
<text class="t" text-anchor="end" transform="translate(724.70,999.98) scale(0.950,1)">0.1</text>
<text class="t" text-anchor="end" transform="translate(724.70,956.76) scale(0.950,1)">0.2</text>
<text class="t" text-anchor="end" transform="translate(724.70,913.54) scale(0.950,1)">0.3</text>
<text class="t" text-anchor="end" transform="translate(724.70,870.32) scale(0.950,1)">0.4</text>
<text class="t" text-anchor="end" transform="translate(724.70,827.10) scale(0.950,1)">0.5</text>
<text class="t" text-anchor="end" transform="translate(724.70,783.88) scale(0.950,1)">0.6</text>
<text class="t" text-anchor="end" transform="translate(724.70,740.66) scale(0.950,1)">0.7</text>
<text class="t" text-anchor="end" transform="translate(724.70,697.44) scale(0.950,1)">0.8</text>
<text class="t" text-anchor="end" transform="translate(724.70,654.22) scale(0.950,1)">0.9</text>
<text class="t" text-anchor="end" transform="translate(724.70,611.00) scale(0.950,1)">1</text>
<text class="t" text-anchor="middle" transform="translate(726.90,1057.50) scale(0.950,1)">0</text>
<text class="t" text-anchor="middle" transform="translate(771.28,1057.50) scale(0.950,1)">0.1</text>
<text class="t" text-anchor="middle" transform="translate(815.66,1057.50) scale(0.950,1)">0.2</text>
<text class="t" text-anchor="middle" transform="translate(860.04,1057.50) scale(0.950,1)">0.3</text>
<text class="t" text-anchor="middle" transform="translate(904.42,1057.50) scale(0.950,1)">0.4</text>
<text class="t" text-anchor="middle" transform="translate(948.80,1057.50) scale(0.950,1)">0.5</text>
<text class="t" text-anchor="middle" transform="translate(993.18,1057.50) scale(0.950,1)">0.6</text>
<text class="t" text-anchor="middle" transform="translate(1037.56,1057.50) scale(0.950,1)">0.7</text>
<text class="t" text-anchor="middle" transform="translate(1081.94,1057.50) scale(0.950,1)">0.8</text>
<text class="t" text-anchor="middle" transform="translate(1126.32,1057.50) scale(0.950,1)">0.9</text>
<text class="t" text-anchor="middle" transform="translate(1170.70,1057.50) scale(0.950,1)">1</text>
<text x="948.80" y="1092.00" class="ti" text-anchor="middle">Charge of H15</text>
<text class="ti" text-anchor="middle" transform="translate(683.00,819.40) rotate(-90)">Charge of H16</text>
<text x="638.50" y="588.50" class="L" transform="translate(26.794,7.681) scale(0.9576,0.9861)">e</text>
<clipPath id="clipf"><rect x="1386.90" y="601.30" width="432.60" height="432.00"/></clipPath>
<g clip-path="url(#clipf)">
<rect x="1386.90" y="601.30" width="432.60" height="432.00" fill="#6202a5"/>
<path d="M1559.94,601.30Q1587.30,637.92 1603.20,644.50C1616.57,650.03 1632.04,644.50 1646.46,644.50C1660.88,644.50 1675.30,644.50 1689.72,644.50C1704.14,644.50 1718.56,644.50 1732.98,644.50C1747.40,644.50 1761.82,644.50 1776.24,644.50Q1790.66,644.50 1819.50,644.50L1819.50,1033.30L1386.90,1033.30L1386.90,601.30Z" fill="#850ba3"/>
<path d="M1430.16,601.30Q1459.00,630.10 1473.42,644.50C1487.84,658.90 1502.26,673.30 1516.68,687.70C1531.10,702.10 1544.04,724.32 1559.94,730.90C1573.31,736.43 1589.83,725.37 1603.20,730.90C1619.10,737.48 1630.56,767.52 1646.46,774.10C1659.83,779.63 1676.35,779.63 1689.72,774.10C1705.62,767.52 1717.08,737.48 1732.98,730.90C1746.35,725.37 1761.82,730.90 1776.24,730.90Q1790.66,730.90 1819.50,730.90L1819.50,1033.30L1386.90,1033.30L1386.90,601.30Z" fill="#a52097"/>
<path d="M1386.90,687.70Q1415.74,716.50 1430.16,730.90C1444.58,745.30 1459.00,759.70 1473.42,774.10C1487.84,788.50 1500.78,810.72 1516.68,817.30C1530.05,822.83 1546.57,811.77 1559.94,817.30C1575.84,823.88 1587.30,853.92 1603.20,860.50C1616.57,866.03 1632.04,860.50 1646.46,860.50C1660.88,860.50 1675.30,860.50 1689.72,860.50C1704.14,860.50 1718.56,860.50 1732.98,860.50C1747.40,860.50 1762.87,866.03 1776.24,860.50Q1792.14,853.92 1819.50,817.30L1819.50,1033.30L1386.90,1033.30Z" fill="#bf3a84"/>
<path d="M1386.90,774.10Q1415.74,802.90 1430.16,817.30C1444.58,831.70 1459.00,846.10 1473.42,860.50C1487.84,874.90 1500.78,897.12 1516.68,903.70C1530.05,909.23 1545.52,903.70 1559.94,903.70C1574.36,903.70 1589.83,898.17 1603.20,903.70C1619.10,910.28 1630.56,940.32 1646.46,946.90C1659.83,952.43 1675.30,946.90 1689.72,946.90C1704.14,946.90 1719.61,952.43 1732.98,946.90C1748.88,940.32 1760.34,910.28 1776.24,903.70Q1789.61,898.17 1819.50,903.70L1819.50,1033.30L1386.90,1033.30Z" fill="#d6546d"/>
<path d="M1386.90,860.50Q1415.74,889.30 1430.16,903.70C1444.58,918.10 1457.52,940.32 1473.42,946.90C1486.79,952.43 1503.31,941.37 1516.68,946.90C1532.58,953.48 1544.04,983.52 1559.94,990.10C1573.31,995.63 1588.78,990.10 1603.20,990.10C1617.62,990.10 1632.04,990.10 1646.46,990.10C1660.88,990.10 1675.30,990.10 1689.72,990.10C1704.14,990.10 1718.56,990.10 1732.98,990.10C1747.40,990.10 1761.82,990.10 1776.24,990.10Q1790.66,990.10 1819.50,990.10L1819.50,1033.30L1386.90,1033.30Z" fill="#e7705a"/>
<path d="M1386.90,946.90Q1414.26,983.52 1430.16,990.10C1443.53,995.63 1460.05,984.57 1473.42,990.10Q1489.32,996.68 1516.68,1033.30L1386.90,1033.30Z" fill="#f58e45"/>
<path d="M1559.94,601.30Q1587.30,637.92 1603.20,644.50C1616.57,650.03 1632.04,644.50 1646.46,644.50C1660.88,644.50 1675.30,644.50 1689.72,644.50C1704.14,644.50 1718.56,644.50 1732.98,644.50C1747.40,644.50 1761.82,644.50 1776.24,644.50Q1790.66,644.50 1819.50,644.50" fill="none" stroke="#000" stroke-width="2.1" stroke-opacity="0.22"/>
<path d="M1430.16,601.30Q1459.00,630.10 1473.42,644.50C1487.84,658.90 1502.26,673.30 1516.68,687.70C1531.10,702.10 1544.04,724.32 1559.94,730.90C1573.31,736.43 1589.83,725.37 1603.20,730.90C1619.10,737.48 1630.56,767.52 1646.46,774.10C1659.83,779.63 1676.35,779.63 1689.72,774.10C1705.62,767.52 1717.08,737.48 1732.98,730.90C1746.35,725.37 1761.82,730.90 1776.24,730.90Q1790.66,730.90 1819.50,730.90" fill="none" stroke="#000" stroke-width="2.1" stroke-opacity="0.22"/>
<path d="M1386.90,687.70Q1415.74,716.50 1430.16,730.90C1444.58,745.30 1459.00,759.70 1473.42,774.10C1487.84,788.50 1500.78,810.72 1516.68,817.30C1530.05,822.83 1546.57,811.77 1559.94,817.30C1575.84,823.88 1587.30,853.92 1603.20,860.50C1616.57,866.03 1632.04,860.50 1646.46,860.50C1660.88,860.50 1675.30,860.50 1689.72,860.50C1704.14,860.50 1718.56,860.50 1732.98,860.50C1747.40,860.50 1762.87,866.03 1776.24,860.50Q1792.14,853.92 1819.50,817.30" fill="none" stroke="#000" stroke-width="2.1" stroke-opacity="0.22"/>
<path d="M1386.90,774.10Q1415.74,802.90 1430.16,817.30C1444.58,831.70 1459.00,846.10 1473.42,860.50C1487.84,874.90 1500.78,897.12 1516.68,903.70C1530.05,909.23 1545.52,903.70 1559.94,903.70C1574.36,903.70 1589.83,898.17 1603.20,903.70C1619.10,910.28 1630.56,940.32 1646.46,946.90C1659.83,952.43 1675.30,946.90 1689.72,946.90C1704.14,946.90 1719.61,952.43 1732.98,946.90C1748.88,940.32 1760.34,910.28 1776.24,903.70Q1789.61,898.17 1819.50,903.70" fill="none" stroke="#000" stroke-width="2.1" stroke-opacity="0.22"/>
<path d="M1386.90,860.50Q1415.74,889.30 1430.16,903.70C1444.58,918.10 1457.52,940.32 1473.42,946.90C1486.79,952.43 1503.31,941.37 1516.68,946.90C1532.58,953.48 1544.04,983.52 1559.94,990.10C1573.31,995.63 1588.78,990.10 1603.20,990.10C1617.62,990.10 1632.04,990.10 1646.46,990.10C1660.88,990.10 1675.30,990.10 1689.72,990.10C1704.14,990.10 1718.56,990.10 1732.98,990.10C1747.40,990.10 1761.82,990.10 1776.24,990.10Q1790.66,990.10 1819.50,990.10" fill="none" stroke="#000" stroke-width="2.1" stroke-opacity="0.22"/>
<path d="M1386.90,946.90Q1414.26,983.52 1430.16,990.10C1443.53,995.63 1460.05,984.57 1473.42,990.10Q1489.32,996.68 1516.68,1033.30" fill="none" stroke="#000" stroke-width="2.1" stroke-opacity="0.22"/>
</g>
<rect x="1840.90" y="1002.96" width="34.60" height="18.54" fill="#0d0887"/>
<rect x="1840.90" y="965.89" width="34.60" height="37.07" fill="#3c049b"/>
<rect x="1840.90" y="928.82" width="34.60" height="37.07" fill="#6202a5"/>
<rect x="1840.90" y="891.75" width="34.60" height="37.07" fill="#850ba3"/>
<rect x="1840.90" y="854.67" width="34.60" height="37.07" fill="#a52097"/>
<rect x="1840.90" y="817.60" width="34.60" height="37.07" fill="#bf3a84"/>
<rect x="1840.90" y="780.53" width="34.60" height="37.07" fill="#d6546d"/>
<rect x="1840.90" y="743.45" width="34.60" height="37.07" fill="#e7705a"/>
<rect x="1840.90" y="706.38" width="34.60" height="37.07" fill="#f58e45"/>
<rect x="1840.90" y="669.31" width="34.60" height="37.07" fill="#fcaf33"/>
<rect x="1840.90" y="632.24" width="34.60" height="37.07" fill="#fbd325"/>
<rect x="1840.90" y="613.70" width="34.60" height="18.54" fill="#f0f921"/>
<line x1="1840.90" x2="1875.50" y1="1002.96" y2="1002.96" stroke="#000" stroke-width="2.4" stroke-opacity="0.3"/>
<line x1="1840.90" x2="1875.50" y1="965.89" y2="965.89" stroke="#000" stroke-width="2.4" stroke-opacity="0.3"/>
<line x1="1840.90" x2="1875.50" y1="928.82" y2="928.82" stroke="#000" stroke-width="2.4" stroke-opacity="0.3"/>
<line x1="1840.90" x2="1875.50" y1="891.75" y2="891.75" stroke="#000" stroke-width="2.4" stroke-opacity="0.3"/>
<line x1="1840.90" x2="1875.50" y1="854.67" y2="854.67" stroke="#000" stroke-width="2.4" stroke-opacity="0.3"/>
<line x1="1840.90" x2="1875.50" y1="817.60" y2="817.60" stroke="#000" stroke-width="2.4" stroke-opacity="0.3"/>
<line x1="1840.90" x2="1875.50" y1="780.53" y2="780.53" stroke="#000" stroke-width="2.4" stroke-opacity="0.3"/>
<line x1="1840.90" x2="1875.50" y1="743.45" y2="743.45" stroke="#000" stroke-width="2.4" stroke-opacity="0.3"/>
<line x1="1840.90" x2="1875.50" y1="706.38" y2="706.38" stroke="#000" stroke-width="2.4" stroke-opacity="0.3"/>
<line x1="1840.90" x2="1875.50" y1="669.31" y2="669.31" stroke="#000" stroke-width="2.4" stroke-opacity="0.3"/>
<line x1="1840.90" x2="1875.50" y1="632.24" y2="632.24" stroke="#000" stroke-width="2.4" stroke-opacity="0.3"/>
<text class="t" transform="translate(1880.10,972.99) scale(0.950,1)">0.0892</text>
<text class="t" transform="translate(1880.10,898.85) scale(0.950,1)">0.0896</text>
<text class="t" transform="translate(1880.10,824.70) scale(0.950,1)">0.09</text>
<text class="t" transform="translate(1880.10,750.55) scale(0.950,1)">0.0904</text>
<text class="t" transform="translate(1880.10,676.41) scale(0.950,1)">0.0908</text>
<text class="t" text-anchor="end" transform="translate(1384.70,1041.00) scale(0.950,1)">0</text>
<text class="t" text-anchor="end" transform="translate(1384.70,997.80) scale(0.950,1)">0.1</text>
<text class="t" text-anchor="end" transform="translate(1384.70,954.60) scale(0.950,1)">0.2</text>
<text class="t" text-anchor="end" transform="translate(1384.70,911.40) scale(0.950,1)">0.3</text>
<text class="t" text-anchor="end" transform="translate(1384.70,868.20) scale(0.950,1)">0.4</text>
<text class="t" text-anchor="end" transform="translate(1384.70,825.00) scale(0.950,1)">0.5</text>
<text class="t" text-anchor="end" transform="translate(1384.70,781.80) scale(0.950,1)">0.6</text>
<text class="t" text-anchor="end" transform="translate(1384.70,738.60) scale(0.950,1)">0.7</text>
<text class="t" text-anchor="end" transform="translate(1384.70,695.40) scale(0.950,1)">0.8</text>
<text class="t" text-anchor="end" transform="translate(1384.70,652.20) scale(0.950,1)">0.9</text>
<text class="t" text-anchor="end" transform="translate(1384.70,609.00) scale(0.950,1)">1</text>
<text class="t" text-anchor="middle" transform="translate(1386.90,1055.30) scale(0.950,1)">0</text>
<text class="t" text-anchor="middle" transform="translate(1430.16,1055.30) scale(0.950,1)">0.1</text>
<text class="t" text-anchor="middle" transform="translate(1473.42,1055.30) scale(0.950,1)">0.2</text>
<text class="t" text-anchor="middle" transform="translate(1516.68,1055.30) scale(0.950,1)">0.3</text>
<text class="t" text-anchor="middle" transform="translate(1559.94,1055.30) scale(0.950,1)">0.4</text>
<text class="t" text-anchor="middle" transform="translate(1603.20,1055.30) scale(0.950,1)">0.5</text>
<text class="t" text-anchor="middle" transform="translate(1646.46,1055.30) scale(0.950,1)">0.6</text>
<text class="t" text-anchor="middle" transform="translate(1689.72,1055.30) scale(0.950,1)">0.7</text>
<text class="t" text-anchor="middle" transform="translate(1732.98,1055.30) scale(0.950,1)">0.8</text>
<text class="t" text-anchor="middle" transform="translate(1776.24,1055.30) scale(0.950,1)">0.9</text>
<text class="t" text-anchor="middle" transform="translate(1819.50,1055.30) scale(0.950,1)">1</text>
<text x="1603.20" y="1089.80" class="ti" text-anchor="middle">Charge of H15</text>
<text class="ti" text-anchor="middle" transform="translate(1346.00,817.30) rotate(-90)">Charge of H16</text>
<text x="1277.00" y="588.50" class="L" transform="translate(-115.082,-19.348) scale(1.0909,1.0320)">f</text>
<clipPath id="clipg"><rect x="78.80" y="1139.10" width="429.90" height="431.00"/></clipPath>
<g clip-path="url(#clipg)">
<rect x="78.80" y="1139.10" width="429.90" height="431.00" fill="#e7705a"/>
<path d="M207.77,1139.10Q222.10,1153.47 229.26,1160.65C236.43,1167.83 246.87,1172.78 250.76,1182.20C255.39,1193.40 250.76,1210.93 250.76,1225.30C250.76,1239.67 245.25,1255.07 250.76,1268.40C257.31,1284.24 277.94,1304.94 293.75,1311.50C307.04,1317.01 323.45,1317.01 336.74,1311.50C352.55,1304.94 363.92,1274.96 379.73,1268.40C393.02,1262.89 415.55,1275.57 422.72,1268.40C429.90,1261.22 417.21,1238.63 422.72,1225.30C429.27,1209.46 459.16,1198.04 465.71,1182.20Q471.22,1168.87 465.71,1139.10Z" fill="#d6546d"/>
<path d="M207.77,1139.10Q222.10,1153.47 229.26,1160.65C236.43,1167.83 246.87,1172.78 250.76,1182.20C255.39,1193.40 250.76,1210.93 250.76,1225.30C250.76,1239.67 245.25,1255.07 250.76,1268.40C257.31,1284.24 277.94,1304.94 293.75,1311.50C307.04,1317.01 323.45,1317.01 336.74,1311.50C352.55,1304.94 363.92,1274.96 379.73,1268.40C393.02,1262.89 415.55,1275.57 422.72,1268.40C429.90,1261.22 417.21,1238.63 422.72,1225.30C429.27,1209.46 459.16,1198.04 465.71,1182.20Q471.22,1168.87 465.71,1139.10" fill="none" stroke="#000" stroke-width="2.1" stroke-opacity="0.22"/>
</g>
<rect x="529.30" y="1540.26" width="35.10" height="18.54" fill="#0d0887"/>
<rect x="529.30" y="1503.19" width="35.10" height="37.07" fill="#3c049b"/>
<rect x="529.30" y="1466.12" width="35.10" height="37.07" fill="#6202a5"/>
<rect x="529.30" y="1429.05" width="35.10" height="37.07" fill="#850ba3"/>
<rect x="529.30" y="1391.97" width="35.10" height="37.07" fill="#a52097"/>
<rect x="529.30" y="1354.90" width="35.10" height="37.07" fill="#bf3a84"/>
<rect x="529.30" y="1317.83" width="35.10" height="37.07" fill="#d6546d"/>
<rect x="529.30" y="1280.75" width="35.10" height="37.07" fill="#e7705a"/>
<rect x="529.30" y="1243.68" width="35.10" height="37.07" fill="#f58e45"/>
<rect x="529.30" y="1206.61" width="35.10" height="37.07" fill="#fcaf33"/>
<rect x="529.30" y="1169.54" width="35.10" height="37.07" fill="#fbd325"/>
<rect x="529.30" y="1151.00" width="35.10" height="18.54" fill="#f0f921"/>
<line x1="529.30" x2="564.40" y1="1540.26" y2="1540.26" stroke="#000" stroke-width="2.4" stroke-opacity="0.3"/>
<line x1="529.30" x2="564.40" y1="1503.19" y2="1503.19" stroke="#000" stroke-width="2.4" stroke-opacity="0.3"/>
<line x1="529.30" x2="564.40" y1="1466.12" y2="1466.12" stroke="#000" stroke-width="2.4" stroke-opacity="0.3"/>
<line x1="529.30" x2="564.40" y1="1429.05" y2="1429.05" stroke="#000" stroke-width="2.4" stroke-opacity="0.3"/>
<line x1="529.30" x2="564.40" y1="1391.97" y2="1391.97" stroke="#000" stroke-width="2.4" stroke-opacity="0.3"/>
<line x1="529.30" x2="564.40" y1="1354.90" y2="1354.90" stroke="#000" stroke-width="2.4" stroke-opacity="0.3"/>
<line x1="529.30" x2="564.40" y1="1317.83" y2="1317.83" stroke="#000" stroke-width="2.4" stroke-opacity="0.3"/>
<line x1="529.30" x2="564.40" y1="1280.75" y2="1280.75" stroke="#000" stroke-width="2.4" stroke-opacity="0.3"/>
<line x1="529.30" x2="564.40" y1="1243.68" y2="1243.68" stroke="#000" stroke-width="2.4" stroke-opacity="0.3"/>
<line x1="529.30" x2="564.40" y1="1206.61" y2="1206.61" stroke="#000" stroke-width="2.4" stroke-opacity="0.3"/>
<line x1="529.30" x2="564.40" y1="1169.54" y2="1169.54" stroke="#000" stroke-width="2.4" stroke-opacity="0.3"/>
<text class="t" transform="translate(569.00,1547.36) scale(0.950,1)">0.107</text>
<text class="t" transform="translate(569.00,1473.22) scale(0.950,1)">0.108</text>
<text class="t" transform="translate(569.00,1399.07) scale(0.950,1)">0.109</text>
<text class="t" transform="translate(569.00,1324.93) scale(0.950,1)">0.11</text>
<text class="t" transform="translate(569.00,1250.78) scale(0.950,1)">0.111</text>
<text class="t" transform="translate(569.00,1176.64) scale(0.950,1)">0.112</text>
<text class="t" text-anchor="end" transform="translate(76.60,1577.80) scale(0.950,1)">−1</text>
<text class="t" text-anchor="end" transform="translate(76.60,1534.70) scale(0.950,1)">−0.9</text>
<text class="t" text-anchor="end" transform="translate(76.60,1491.60) scale(0.950,1)">−0.8</text>
<text class="t" text-anchor="end" transform="translate(76.60,1448.50) scale(0.950,1)">−0.7</text>
<text class="t" text-anchor="end" transform="translate(76.60,1405.40) scale(0.950,1)">−0.6</text>
<text class="t" text-anchor="end" transform="translate(76.60,1362.30) scale(0.950,1)">−0.5</text>
<text class="t" text-anchor="end" transform="translate(76.60,1319.20) scale(0.950,1)">−0.4</text>
<text class="t" text-anchor="end" transform="translate(76.60,1276.10) scale(0.950,1)">−0.3</text>
<text class="t" text-anchor="end" transform="translate(76.60,1233.00) scale(0.950,1)">−0.2</text>
<text class="t" text-anchor="end" transform="translate(76.60,1189.90) scale(0.950,1)">−0.1</text>
<text class="t" text-anchor="end" transform="translate(76.60,1146.80) scale(0.950,1)">0</text>
<text class="t" text-anchor="middle" transform="translate(78.80,1592.10) scale(0.950,1)">0</text>
<text class="t" text-anchor="middle" transform="translate(121.79,1592.10) scale(0.950,1)">0.1</text>
<text class="t" text-anchor="middle" transform="translate(164.78,1592.10) scale(0.950,1)">0.2</text>
<text class="t" text-anchor="middle" transform="translate(207.77,1592.10) scale(0.950,1)">0.3</text>
<text class="t" text-anchor="middle" transform="translate(250.76,1592.10) scale(0.950,1)">0.4</text>
<text class="t" text-anchor="middle" transform="translate(293.75,1592.10) scale(0.950,1)">0.5</text>
<text class="t" text-anchor="middle" transform="translate(336.74,1592.10) scale(0.950,1)">0.6</text>
<text class="t" text-anchor="middle" transform="translate(379.73,1592.10) scale(0.950,1)">0.7</text>
<text class="t" text-anchor="middle" transform="translate(422.72,1592.10) scale(0.950,1)">0.8</text>
<text class="t" text-anchor="middle" transform="translate(465.71,1592.10) scale(0.950,1)">0.9</text>
<text class="t" text-anchor="middle" transform="translate(508.70,1592.10) scale(0.950,1)">1</text>
<text x="293.75" y="1626.60" class="ti" text-anchor="middle">Charge of H15</text>
<text class="ti" text-anchor="middle" transform="translate(24.00,1354.60) rotate(-90)">Charge of CL1</text>
<text x="0.00" y="1114.60" class="L" transform="translate(-1.265,49.534) scale(0.9882,0.9540)">g</text>
<clipPath id="cliph"><rect x="741.60" y="1139.10" width="430.70" height="432.60"/></clipPath>
<g clip-path="url(#cliph)">
<rect x="741.60" y="1139.10" width="430.70" height="432.60" fill="#9c179e"/>
<path d="M741.60,1277.53Q756.38,1273.35 763.13,1268.88C770.88,1263.75 776.80,1251.48 784.67,1247.25C791.35,1243.66 799.03,1242.92 806.21,1242.92C813.38,1242.92 820.02,1243.11 827.74,1247.25C840.60,1254.16 854.97,1283.93 870.81,1290.51C884.12,1296.04 899.52,1290.51 913.88,1290.51C928.24,1290.51 942.59,1290.51 956.95,1290.51C971.31,1290.51 986.71,1296.04 1000.02,1290.51C1015.86,1283.93 1027.25,1253.83 1043.09,1247.25C1056.40,1241.72 1072.85,1252.78 1086.16,1247.25C1102.00,1240.67 1117.34,1215.94 1129.23,1203.99C1137.64,1195.54 1146.86,1191.81 1150.76,1182.36Q1155.41,1171.11 1150.76,1139.10L1172.30,1139.10L1172.30,1571.70L741.60,1571.70Z" fill="#bd3786"/>
<path d="M741.60,1441.92Q770.31,1441.92 784.67,1441.92C799.03,1441.92 813.38,1441.92 827.74,1441.92C842.10,1441.92 856.45,1441.92 870.81,1441.92C885.17,1441.92 899.52,1441.92 913.88,1441.92C928.24,1441.92 943.64,1447.45 956.95,1441.92C972.79,1435.34 984.18,1405.24 1000.02,1398.66C1013.33,1393.13 1029.78,1404.19 1043.09,1398.66C1058.93,1392.08 1070.32,1361.98 1086.16,1355.40C1099.47,1349.87 1122.04,1362.59 1129.23,1355.40C1136.43,1348.20 1123.71,1325.52 1129.23,1312.14Q1135.79,1296.25 1172.30,1268.88L1172.30,1571.70L741.60,1571.70Z" fill="#d8576b"/>
<path d="M978.49,1571.70Q1021.91,1515.61 1043.09,1506.81C1057.61,1500.77 1070.80,1513.19 1086.16,1506.81Q1112.02,1496.06 1172.30,1420.29L1172.30,1571.70Z" fill="#ed7953"/>
<path d="M741.60,1277.53Q756.38,1273.35 763.13,1268.88C770.88,1263.75 776.80,1251.48 784.67,1247.25C791.35,1243.66 799.03,1242.92 806.21,1242.92C813.38,1242.92 820.02,1243.11 827.74,1247.25C840.60,1254.16 854.97,1283.93 870.81,1290.51C884.12,1296.04 899.52,1290.51 913.88,1290.51C928.24,1290.51 942.59,1290.51 956.95,1290.51C971.31,1290.51 986.71,1296.04 1000.02,1290.51C1015.86,1283.93 1027.25,1253.83 1043.09,1247.25C1056.40,1241.72 1072.85,1252.78 1086.16,1247.25C1102.00,1240.67 1117.34,1215.94 1129.23,1203.99C1137.64,1195.54 1146.86,1191.81 1150.76,1182.36Q1155.41,1171.11 1150.76,1139.10" fill="none" stroke="#000" stroke-width="2.1" stroke-opacity="0.22"/>
<path d="M741.60,1441.92Q770.31,1441.92 784.67,1441.92C799.03,1441.92 813.38,1441.92 827.74,1441.92C842.10,1441.92 856.45,1441.92 870.81,1441.92C885.17,1441.92 899.52,1441.92 913.88,1441.92C928.24,1441.92 943.64,1447.45 956.95,1441.92C972.79,1435.34 984.18,1405.24 1000.02,1398.66C1013.33,1393.13 1029.78,1404.19 1043.09,1398.66C1058.93,1392.08 1070.32,1361.98 1086.16,1355.40C1099.47,1349.87 1122.04,1362.59 1129.23,1355.40C1136.43,1348.20 1123.71,1325.52 1129.23,1312.14Q1135.79,1296.25 1172.30,1268.88" fill="none" stroke="#000" stroke-width="2.1" stroke-opacity="0.22"/>
<path d="M978.49,1571.70Q1021.91,1515.61 1043.09,1506.81C1057.61,1500.77 1070.80,1513.19 1086.16,1506.81Q1112.02,1496.06 1172.30,1420.29" fill="none" stroke="#000" stroke-width="2.1" stroke-opacity="0.22"/>
</g>
<rect x="1193.00" y="1537.96" width="35.10" height="22.74" fill="#0d0887"/>
<rect x="1193.00" y="1492.47" width="35.10" height="45.49" fill="#46039f"/>
<rect x="1193.00" y="1446.98" width="35.10" height="45.49" fill="#7201a8"/>
<rect x="1193.00" y="1401.49" width="35.10" height="45.49" fill="#9c179e"/>
<rect x="1193.00" y="1356.00" width="35.10" height="45.49" fill="#bd3786"/>
<rect x="1193.00" y="1310.51" width="35.10" height="45.49" fill="#d8576b"/>
<rect x="1193.00" y="1265.02" width="35.10" height="45.49" fill="#ed7953"/>
<rect x="1193.00" y="1219.53" width="35.10" height="45.49" fill="#fb9f3a"/>
<rect x="1193.00" y="1174.04" width="35.10" height="45.49" fill="#fdca26"/>
<rect x="1193.00" y="1151.30" width="35.10" height="22.74" fill="#f0f921"/>
<line x1="1193.00" x2="1228.10" y1="1537.96" y2="1537.96" stroke="#000" stroke-width="2.4" stroke-opacity="0.3"/>
<line x1="1193.00" x2="1228.10" y1="1492.47" y2="1492.47" stroke="#000" stroke-width="2.4" stroke-opacity="0.3"/>
<line x1="1193.00" x2="1228.10" y1="1446.98" y2="1446.98" stroke="#000" stroke-width="2.4" stroke-opacity="0.3"/>
<line x1="1193.00" x2="1228.10" y1="1401.49" y2="1401.49" stroke="#000" stroke-width="2.4" stroke-opacity="0.3"/>
<line x1="1193.00" x2="1228.10" y1="1356.00" y2="1356.00" stroke="#000" stroke-width="2.4" stroke-opacity="0.3"/>
<line x1="1193.00" x2="1228.10" y1="1310.51" y2="1310.51" stroke="#000" stroke-width="2.4" stroke-opacity="0.3"/>
<line x1="1193.00" x2="1228.10" y1="1265.02" y2="1265.02" stroke="#000" stroke-width="2.4" stroke-opacity="0.3"/>
<line x1="1193.00" x2="1228.10" y1="1219.53" y2="1219.53" stroke="#000" stroke-width="2.4" stroke-opacity="0.3"/>
<line x1="1193.00" x2="1228.10" y1="1174.04" y2="1174.04" stroke="#000" stroke-width="2.4" stroke-opacity="0.3"/>
<text class="t" transform="translate(1232.70,1545.06) scale(0.950,1)">0.182</text>
<text class="t" transform="translate(1232.70,1454.08) scale(0.950,1)">0.183</text>
<text class="t" transform="translate(1232.70,1363.10) scale(0.950,1)">0.184</text>
<text class="t" transform="translate(1232.70,1272.12) scale(0.950,1)">0.185</text>
<text class="t" transform="translate(1232.70,1181.14) scale(0.950,1)">0.186</text>
<text class="t" text-anchor="end" transform="translate(739.40,1579.40) scale(0.950,1)">−1</text>
<text class="t" text-anchor="end" transform="translate(739.40,1536.14) scale(0.950,1)">−0.9</text>
<text class="t" text-anchor="end" transform="translate(739.40,1492.88) scale(0.950,1)">−0.8</text>
<text class="t" text-anchor="end" transform="translate(739.40,1449.62) scale(0.950,1)">−0.7</text>
<text class="t" text-anchor="end" transform="translate(739.40,1406.36) scale(0.950,1)">−0.6</text>
<text class="t" text-anchor="end" transform="translate(739.40,1363.10) scale(0.950,1)">−0.5</text>
<text class="t" text-anchor="end" transform="translate(739.40,1319.84) scale(0.950,1)">−0.4</text>
<text class="t" text-anchor="end" transform="translate(739.40,1276.58) scale(0.950,1)">−0.3</text>
<text class="t" text-anchor="end" transform="translate(739.40,1233.32) scale(0.950,1)">−0.2</text>
<text class="t" text-anchor="end" transform="translate(739.40,1190.06) scale(0.950,1)">−0.1</text>
<text class="t" text-anchor="end" transform="translate(739.40,1146.80) scale(0.950,1)">0</text>
<text class="t" text-anchor="middle" transform="translate(741.60,1593.70) scale(0.950,1)">0</text>
<text class="t" text-anchor="middle" transform="translate(784.67,1593.70) scale(0.950,1)">0.1</text>
<text class="t" text-anchor="middle" transform="translate(827.74,1593.70) scale(0.950,1)">0.2</text>
<text class="t" text-anchor="middle" transform="translate(870.81,1593.70) scale(0.950,1)">0.3</text>
<text class="t" text-anchor="middle" transform="translate(913.88,1593.70) scale(0.950,1)">0.4</text>
<text class="t" text-anchor="middle" transform="translate(956.95,1593.70) scale(0.950,1)">0.5</text>
<text class="t" text-anchor="middle" transform="translate(1000.02,1593.70) scale(0.950,1)">0.6</text>
<text class="t" text-anchor="middle" transform="translate(1043.09,1593.70) scale(0.950,1)">0.7</text>
<text class="t" text-anchor="middle" transform="translate(1086.16,1593.70) scale(0.950,1)">0.8</text>
<text class="t" text-anchor="middle" transform="translate(1129.23,1593.70) scale(0.950,1)">0.9</text>
<text class="t" text-anchor="middle" transform="translate(1172.30,1593.70) scale(0.950,1)">1</text>
<text x="956.95" y="1628.20" class="ti" text-anchor="middle">Charge of H15</text>
<text class="ti" text-anchor="middle" transform="translate(683.00,1355.40) rotate(-90)">Charge of CL1</text>
<text x="639.50" y="1114.60" class="L" transform="translate(-9.447,-31.620) scale(1.0094,1.0280)">h</text>
<clipPath id="clipi"><rect x="1399.60" y="1139.60" width="420.30" height="432.10"/></clipPath>
<g clip-path="url(#clipi)">
<rect x="1399.60" y="1139.60" width="420.30" height="432.10" fill="#d6546d"/>
<path d="M1567.72,1139.60Q1567.72,1168.41 1567.72,1182.81C1567.72,1197.21 1573.16,1212.63 1567.72,1226.02C1561.30,1241.84 1532.11,1253.41 1525.69,1269.23C1520.25,1282.62 1525.69,1298.04 1525.69,1312.44C1525.69,1326.84 1525.69,1341.25 1525.69,1355.65C1525.69,1370.05 1531.13,1385.47 1525.69,1398.86C1519.27,1414.68 1490.08,1426.25 1483.66,1442.07C1478.22,1455.46 1483.66,1470.88 1483.66,1485.28C1483.66,1499.68 1483.66,1514.09 1483.66,1528.49Q1483.66,1542.89 1483.66,1571.70L1399.60,1571.70L1399.60,1139.60Z" fill="#e7705a"/>
<path d="M1441.63,1139.60Q1441.63,1168.41 1441.63,1182.81C1441.63,1197.21 1447.07,1212.63 1441.63,1226.02Q1435.21,1241.84 1399.60,1269.23L1399.60,1139.60Z" fill="#f58e45"/>
<path d="M1651.78,1571.70Q1651.78,1542.89 1651.78,1528.49C1651.78,1514.09 1644.63,1492.43 1651.78,1485.28C1658.83,1478.23 1680.85,1479.81 1693.81,1485.28C1709.33,1491.83 1721.83,1514.09 1735.84,1528.49Q1749.85,1542.89 1777.87,1571.70Z" fill="#bf3a84"/>
<path d="M1567.72,1139.60Q1567.72,1168.41 1567.72,1182.81C1567.72,1197.21 1573.16,1212.63 1567.72,1226.02C1561.30,1241.84 1532.11,1253.41 1525.69,1269.23C1520.25,1282.62 1525.69,1298.04 1525.69,1312.44C1525.69,1326.84 1525.69,1341.25 1525.69,1355.65C1525.69,1370.05 1531.13,1385.47 1525.69,1398.86C1519.27,1414.68 1490.08,1426.25 1483.66,1442.07C1478.22,1455.46 1483.66,1470.88 1483.66,1485.28C1483.66,1499.68 1483.66,1514.09 1483.66,1528.49Q1483.66,1542.89 1483.66,1571.70" fill="none" stroke="#000" stroke-width="2.1" stroke-opacity="0.22"/>
<path d="M1441.63,1139.60Q1441.63,1168.41 1441.63,1182.81C1441.63,1197.21 1447.07,1212.63 1441.63,1226.02Q1435.21,1241.84 1399.60,1269.23" fill="none" stroke="#000" stroke-width="2.1" stroke-opacity="0.22"/>
<path d="M1651.78,1571.70Q1651.78,1542.89 1651.78,1528.49C1651.78,1514.09 1644.63,1492.43 1651.78,1485.28C1658.83,1478.23 1680.85,1479.81 1693.81,1485.28C1709.33,1491.83 1721.83,1514.09 1735.84,1528.49Q1749.85,1542.89 1777.87,1571.70" fill="none" stroke="#000" stroke-width="2.1" stroke-opacity="0.22"/>
</g>
<rect x="1840.60" y="1542.36" width="34.80" height="18.64" fill="#0d0887"/>
<rect x="1840.60" y="1505.09" width="34.80" height="37.27" fill="#3c049b"/>
<rect x="1840.60" y="1467.82" width="34.80" height="37.27" fill="#6202a5"/>
<rect x="1840.60" y="1430.55" width="34.80" height="37.27" fill="#850ba3"/>
<rect x="1840.60" y="1393.27" width="34.80" height="37.27" fill="#a52097"/>
<rect x="1840.60" y="1356.00" width="34.80" height="37.27" fill="#bf3a84"/>
<rect x="1840.60" y="1318.73" width="34.80" height="37.27" fill="#d6546d"/>
<rect x="1840.60" y="1281.45" width="34.80" height="37.27" fill="#e7705a"/>
<rect x="1840.60" y="1244.18" width="34.80" height="37.27" fill="#f58e45"/>
<rect x="1840.60" y="1206.91" width="34.80" height="37.27" fill="#fcaf33"/>
<rect x="1840.60" y="1169.64" width="34.80" height="37.27" fill="#fbd325"/>
<rect x="1840.60" y="1151.00" width="34.80" height="18.64" fill="#f0f921"/>
<line x1="1840.60" x2="1875.40" y1="1542.36" y2="1542.36" stroke="#000" stroke-width="2.4" stroke-opacity="0.3"/>
<line x1="1840.60" x2="1875.40" y1="1505.09" y2="1505.09" stroke="#000" stroke-width="2.4" stroke-opacity="0.3"/>
<line x1="1840.60" x2="1875.40" y1="1467.82" y2="1467.82" stroke="#000" stroke-width="2.4" stroke-opacity="0.3"/>
<line x1="1840.60" x2="1875.40" y1="1430.55" y2="1430.55" stroke="#000" stroke-width="2.4" stroke-opacity="0.3"/>
<line x1="1840.60" x2="1875.40" y1="1393.27" y2="1393.27" stroke="#000" stroke-width="2.4" stroke-opacity="0.3"/>
<line x1="1840.60" x2="1875.40" y1="1356.00" y2="1356.00" stroke="#000" stroke-width="2.4" stroke-opacity="0.3"/>
<line x1="1840.60" x2="1875.40" y1="1318.73" y2="1318.73" stroke="#000" stroke-width="2.4" stroke-opacity="0.3"/>
<line x1="1840.60" x2="1875.40" y1="1281.45" y2="1281.45" stroke="#000" stroke-width="2.4" stroke-opacity="0.3"/>
<line x1="1840.60" x2="1875.40" y1="1244.18" y2="1244.18" stroke="#000" stroke-width="2.4" stroke-opacity="0.3"/>
<line x1="1840.60" x2="1875.40" y1="1206.91" y2="1206.91" stroke="#000" stroke-width="2.4" stroke-opacity="0.3"/>
<line x1="1840.60" x2="1875.40" y1="1169.64" y2="1169.64" stroke="#000" stroke-width="2.4" stroke-opacity="0.3"/>
<text class="t" transform="translate(1880.00,1512.19) scale(0.950,1)">0.0892</text>
<text class="t" transform="translate(1880.00,1437.65) scale(0.950,1)">0.0896</text>
<text class="t" transform="translate(1880.00,1363.10) scale(0.950,1)">0.09</text>
<text class="t" transform="translate(1880.00,1288.55) scale(0.950,1)">0.0904</text>
<text class="t" transform="translate(1880.00,1214.01) scale(0.950,1)">0.0908</text>
<text class="t" text-anchor="end" transform="translate(1397.40,1579.40) scale(0.950,1)">−1</text>
<text class="t" text-anchor="end" transform="translate(1397.40,1536.19) scale(0.950,1)">−0.9</text>
<text class="t" text-anchor="end" transform="translate(1397.40,1492.98) scale(0.950,1)">−0.8</text>
<text class="t" text-anchor="end" transform="translate(1397.40,1449.77) scale(0.950,1)">−0.7</text>
<text class="t" text-anchor="end" transform="translate(1397.40,1406.56) scale(0.950,1)">−0.6</text>
<text class="t" text-anchor="end" transform="translate(1397.40,1363.35) scale(0.950,1)">−0.5</text>
<text class="t" text-anchor="end" transform="translate(1397.40,1320.14) scale(0.950,1)">−0.4</text>
<text class="t" text-anchor="end" transform="translate(1397.40,1276.93) scale(0.950,1)">−0.3</text>
<text class="t" text-anchor="end" transform="translate(1397.40,1233.72) scale(0.950,1)">−0.2</text>
<text class="t" text-anchor="end" transform="translate(1397.40,1190.51) scale(0.950,1)">−0.1</text>
<text class="t" text-anchor="end" transform="translate(1397.40,1147.30) scale(0.950,1)">0</text>
<text class="t" text-anchor="middle" transform="translate(1399.60,1593.70) scale(0.950,1)">0</text>
<text class="t" text-anchor="middle" transform="translate(1441.63,1593.70) scale(0.950,1)">0.1</text>
<text class="t" text-anchor="middle" transform="translate(1483.66,1593.70) scale(0.950,1)">0.2</text>
<text class="t" text-anchor="middle" transform="translate(1525.69,1593.70) scale(0.950,1)">0.3</text>
<text class="t" text-anchor="middle" transform="translate(1567.72,1593.70) scale(0.950,1)">0.4</text>
<text class="t" text-anchor="middle" transform="translate(1609.75,1593.70) scale(0.950,1)">0.5</text>
<text class="t" text-anchor="middle" transform="translate(1651.78,1593.70) scale(0.950,1)">0.6</text>
<text class="t" text-anchor="middle" transform="translate(1693.81,1593.70) scale(0.950,1)">0.7</text>
<text class="t" text-anchor="middle" transform="translate(1735.84,1593.70) scale(0.950,1)">0.8</text>
<text class="t" text-anchor="middle" transform="translate(1777.87,1593.70) scale(0.950,1)">0.9</text>
<text class="t" text-anchor="middle" transform="translate(1819.90,1593.70) scale(0.950,1)">1</text>
<text x="1609.75" y="1628.20" class="ti" text-anchor="middle">Charge of H15</text>
<text class="ti" text-anchor="middle" transform="translate(1347.00,1355.65) rotate(-90)">Charge of CL1</text>
<text x="1279.00" y="1114.60" class="L" transform="translate(-158.433,6.290) scale(1.1222,0.9940)">i</text>
</svg>
</body></html>
